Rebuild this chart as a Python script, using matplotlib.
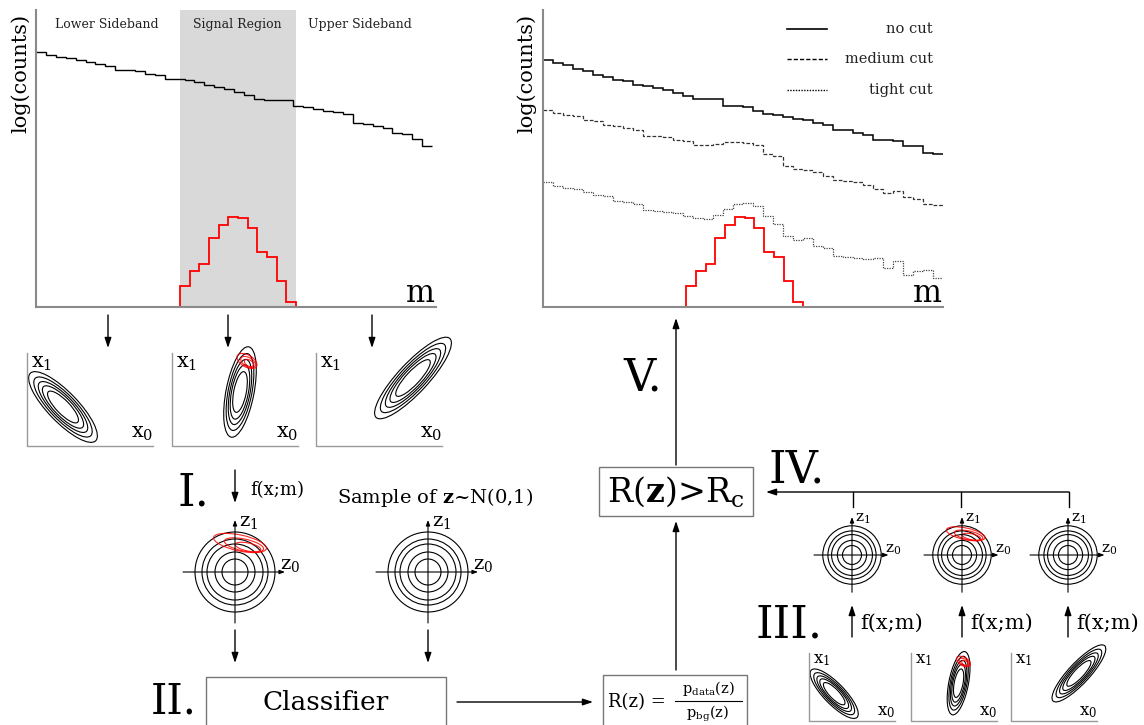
import numpy as np
import matplotlib.pyplot as plt
from matplotlib.patches import Ellipse, Circle, Rectangle

plt.rcParams['font.family'] = 'DejaVu Serif'
plt.rcParams['mathtext.fontset'] = 'dejavuserif'

W, H = 1144, 725

# ---- histogram values (log counts, arbitrary units 0..100) ----
bg_sideband = [85.7, 84.9, 84.2, 83.8, 83.3, 82.4, 81.9, 81.3, 79.9, 79.7,
               79.4, 78.6, 78.2, 76.8, 76.8, 76.5, 75.6, 74.9, 74.1, 73.4,
               72.3, 71.5, 70.0, 69.8, 69.8, 69.6, 67.8, 67.3, 66.7, 65.9,
               65.5, 65.1, 62.0, 61.7, 60.8, 60.3, 58.6, 58.3, 56.6, 54.3]
bg_nocut = [83.1, 82.2, 81.4, 80.1, 79.3, 78.2, 77.4, 76.5, 76.0, 74.9,
            74.5, 73.7, 73.0, 72.1, 71.0, 70.1, 69.9, 69.9, 67.6, 67.6,
            67.3, 65.9, 65.1, 64.7, 63.9, 63.3, 62.8, 61.9, 61.4, 59.7,
            59.5, 58.6, 58.0, 56.3, 56.3, 55.8, 54.3, 54.1, 51.8, 51.6]
bg_medium = [66.2, 65.3, 64.8, 64.2, 63.1, 62.5, 61.4, 60.8, 60.3, 59.5,
             57.5, 57.7, 57.2, 56.3, 55.8, 54.7, 54.4, 55.0, 55.4, 55.6,
             55.2, 54.7, 51.6, 50.7, 47.4, 46.5, 46.2, 45.3, 44.0, 42.9,
             42.3, 42.0, 41.2, 39.7, 38.4, 38.9, 37.0, 36.4, 34.8, 34.2]
bg_tight = [42.0, 40.6, 40.1, 39.7, 38.6, 37.8, 37.3, 35.8, 35.2, 34.8,
            32.5, 32.2, 32.0, 31.6, 30.8, 30.0, 29.6, 31.1, 33.0, 34.8,
            35.0, 34.1, 30.5, 28.1, 23.8, 22.7, 23.2, 20.4, 19.9, 17.1,
            16.8, 16.5, 16.2, 16.5, 13.1, 15.4, 10.9, 12.0, 12.3, 9.8]
signal = [7.2, 12.0, 14.6, 23.2, 27.5, 30.3, 30.0, 26.5, 18.5, 16.8, 8.9, 1.6]

region_labels = ['Lower Sideband', 'Signal Region', 'Upper Sideband']
cut_labels = ['no cut', 'medium cut', 'tight cut']

# contour ring scales
x_rings = [1.0, 0.85, 0.72, 0.6, 0.45]
z_radii = [40, 33, 28, 20, 13]

fig = plt.figure(figsize=(W / 100, H / 100), dpi=100)


def hist_axes(left):
    a = fig.add_axes([left / W, 1 - 307 / H, 400 / W, 297 / H])
    a.set_xlim(0, 40)
    a.set_ylim(0, 100)
    for s in ['top', 'right']:
        a.spines[s].set_visible(False)
    for s in ['left', 'bottom']:
        a.spines[s].set_color('#8a8a8a')
        a.spines[s].set_linewidth(1.5)
    a.set_xticks([])
    a.set_yticks([])
    a.patch.set_alpha(0)
    return a


# ---- top-left histogram ----
h1 = hist_axes(36)
h1.axvspan(14.4, 26.0, color='#d9d9d9', lw=0, zorder=0)
h1.stairs(bg_sideband, np.linspace(0, 39.6, 41), baseline=None, color='black', lw=1)
h1.stairs(signal, np.linspace(14.4, 26.0, 13), color='red', lw=1.3)
for lab, xc in zip(region_labels, [7.1, 20.1, 32.4]):
    h1.text(xc, 95, lab, ha='center', va='center', fontsize=9, color='#222')

# ---- top-right histogram ----
h2 = hist_axes(543)
edges = np.linspace(0, 40, 41)
h2.stairs(bg_nocut, edges, baseline=None, color='black', lw=1.1)
h2.stairs(bg_medium, edges, baseline=None, color='#333', lw=0.9, linestyle=(0, (3, 1.5)))
h2.stairs(bg_tight, edges, baseline=None, color='#444', lw=0.9, linestyle=(0, (1, 1)))
h2.stairs(signal, np.linspace(14.3, 26.0, 13), color='red', lw=1.3)

# ---- overlay in pixel coordinates ----
ax = fig.add_axes([0, 0, 1, 1])
ax.set_xlim(0, W)
ax.set_ylim(H, 0)
ax.axis('off')
ax.patch.set_alpha(0)

# legend
for lab, ls, yy in zip(cut_labels, ['-', (0, (3, 1.5)), (0, (1, 1))], [29, 59, 90]):
    ax.plot([787, 827], [yy, yy], color='black', lw=1.2 if ls == '-' else 1, linestyle=ls)
    ax.text(933, yy, lab, ha='right', va='center', fontsize=10.5, color='#222')

for xl in [21, 527]:
    ax.text(xl, 73, 'log(counts)', rotation=90, ha='center', va='center', fontsize=15)
for xr in [435, 942]:
    ax.text(xr, 302, 'm', ha='right', va='baseline', fontsize=22)


def arrow(x0, y0, x1, y1, lw=1.0):
    ax.annotate('', xy=(x1, y1), xytext=(x0, y0),
                arrowprops=dict(arrowstyle='-|>,head_length=0.6,head_width=0.2',
                                mutation_scale=10, color='black', lw=lw,
                                shrinkA=0, shrinkB=0))


def x_panel(left, bottom, w, h, k, ell, fs, red=None):
    ax.plot([left, left, left + w], [bottom - h, bottom, bottom], color='#999', lw=1)
    cx, cy, a, b, ang = ell
    for s in x_rings:
        ax.add_patch(Ellipse((left + cx * k, bottom + cy * k), 2 * a * k * s, 2 * b * k * s,
                             angle=ang, fill=False, ec='black', lw=0.8))
    if red:
        for rx, ry, ra, rb in red:
            ax.add_patch(Ellipse((left + rx * k, bottom + ry * k), 2 * ra * k, 2 * rb * k,
                                 angle=30, fill=False, ec='red', lw=0.8, alpha=0.85))
    ax.text(left + 4, bottom - h + 10 * k, r'x$_1$', ha='left', va='center', fontsize=fs)
    ax.text(left + w, bottom - 13 * k, r'x$_0$', ha='right', va='center', fontsize=fs)


x_ells = [(36, -39, 47, 15, 46), (68, -54, 46, 14, -79), (97, -68, 54, 15, -47)]
x_red = [(75, -85, 11, 6), (76, -84, 8, 4.5), (77, -83, 5, 3)]

for left, e in zip([27, 172, 316], x_ells):
    x_panel(left, 446, 126, 93, 1.0, e, 15, x_red if left == 172 else None)
for left, e in zip([809, 911, 1011], x_ells):
    x_panel(left, 721, 86, 68, 0.7, e, 12, x_red if left == 911 else None)


def z_panel(cx, cy, k, fs, red=False):
    for r in z_radii:
        ax.add_patch(Circle((cx, cy), r * k, fill=False, ec='black', lw=0.8))
    ax.annotate('', xy=(cx + 50 * k, cy), xytext=(cx - 52 * k, cy),
                arrowprops=dict(arrowstyle='-|>,head_length=0.4,head_width=0.15',
                                mutation_scale=8, color='black', lw=0.8, shrinkA=0, shrinkB=0))
    ax.annotate('', xy=(cx, cy - 52 * k), xytext=(cx, cy + 51 * k),
                arrowprops=dict(arrowstyle='-|>,head_length=0.4,head_width=0.15',
                                mutation_scale=8, color='black', lw=0.8, shrinkA=0, shrinkB=0))
    ax.text(cx + 4 * k, cy - 50 * k, r'z$_1$', ha='left', va='center', fontsize=fs)
    ax.text(cx + 45 * k, cy - 7 * k, r'z$_0$', ha='left', va='center', fontsize=fs)
    if red:
        for rx, ry, ra, rb in [(5, -29, 27, 8), (9, -27, 20, 6), (13, -25, 13, 4)]:
            ax.add_patch(Ellipse((cx + rx * k, cy + ry * k), 2 * ra * k, 2 * rb * k,
                                 angle=12, fill=False, ec='red', lw=0.8, alpha=0.85))


z_panel(235, 572, 1.0, 14, red=True)
z_panel(428, 572, 1.0, 14)
for cx in [852, 962, 1068]:
    z_panel(cx, 555, 0.73, 11, red=(cx == 962))

# arrows from histogram to x panels
for xa in [108, 228, 372]:
    arrow(xa, 315, xa, 348)
arrow(235, 470, 235, 503)
ax.text(250, 490, 'f(x;m)', ha='left', va='center', fontsize=13)
ax.text(435, 497, r'Sample of $\mathbf{z}$~N(0,1)', ha='center', va='center', fontsize=14)
arrow(235, 630, 235, 663)
arrow(428, 630, 428, 663)

# classifier box
ax.add_patch(Rectangle((206, 677), 240, 60, fill=False, ec='#777', lw=1))
ax.text(326, 702, 'Classifier', ha='center', va='center', fontsize=19)
arrow(457, 702, 593, 702)

# likelihood ratio box
ax.add_patch(Rectangle((603, 675), 144, 60, fill=False, ec='#777', lw=1))
ax.text(608, 702, 'R(z) =', ha='left', va='center', fontsize=13)
ax.plot([675, 742], [701, 701], color='black', lw=0.8)
ax.text(708, 689, r'p$_{\mathrm{data}}$(z)', ha='center', va='center', fontsize=10.5)
ax.text(708, 714, r'p$_{\mathrm{bg}}$(z)', ha='center', va='center', fontsize=10.5)
arrow(676, 670, 676, 521)

# threshold box
ax.add_patch(Rectangle((599, 467), 154, 49, fill=False, ec='#777', lw=1))
ax.text(676, 492, r'R($\mathbf{z}$)>R$_{\mathrm{c}}$', ha='center', va='center', fontsize=24)
arrow(676, 465, 676, 318)

# feedback line from z panels
for xt in [853, 961, 1069]:
    ax.plot([xt, xt], [492, 507], color='black', lw=1)
arrow(1069, 492, 766, 492)

for xa in [852, 962, 1068]:
    arrow(xa, 637, xa, 605)
    ax.text(xa + 8, 623, 'f(x;m)', ha='left', va='center', fontsize=15)

# stage numerals (positioned by baseline)
for txt, xx, yy, fs in [('I.', 193, 505, 32), ('II.', 174, 713, 30), ('III.', 789, 637, 32),
                        ('IV.', 797, 482, 32), ('V.', 643, 390, 32)]:
    ax.text(xx, yy, txt, ha='center', va='baseline', fontsize=fs)

fig.savefig('out.png', dpi=100, facecolor='white')
